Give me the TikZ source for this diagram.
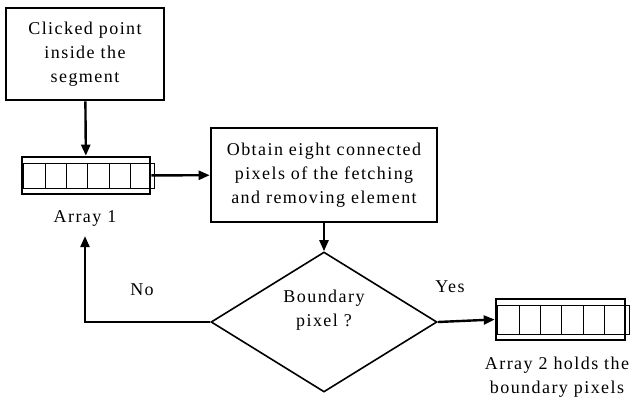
\documentclass[tikz,border=0pt]{standalone}
\usepackage{fontspec}
\setmainfont{Liberation Serif}[LetterSpace=8]
\usetikzlibrary{shapes.geometric,arrows.meta}

\begin{document}
\begin{tikzpicture}[x=1pt,y=-1pt,
	font=\fontsize{18}{24}\selectfont,
	box/.style={draw,line width=2.6pt,align=center,inner sep=0},
	cell/.style={line width=1pt},
	flow/.style={line width=2.4pt,-{Triangle[length=11pt,width=9pt]}}]
	\useasboundingbox (0,0) rectangle (632,402);
	\node[box,minimum width=158pt,minimum height=92pt] (click) at (85,54) {Clicked point\\inside the\\segment};
	\node[box,minimum width=128pt,minimum height=37pt] (arr1) at (86,175.5) {};
	\node[box,minimum width=226pt,minimum height=94pt] (proc) at (324,175) {Obtain eight connected\\pixels of the fetching\\and removing element};
	\node[draw,diamond,line width=1.6pt,inner sep=0,aspect=1.61,minimum width=226pt,minimum height=140pt,align=center] (dec) at (324,322) {Boundary\\pixel ?\\[4pt]};
	\node[box,minimum width=129pt,minimum height=41pt] (arr2) at (560.5,319.5) {};
	\node[inner sep=0] (lbl1) at (85,218) {Array 1};
	\node[align=center,inner sep=0] (lbl2) at (557,377) {Array 2 holds the\\boundary pixels};
	\node[inner sep=0] (no) at (142,290) {No};
	\node[inner sep=0] (yes) at (450,287) {Yes};
	% cells of both arrays
	\foreach \a in {arr1,arr2} {
		\draw[cell] ([shift={(3,8)}]\a.north west) rectangle ([shift={(3,-7)}]\a.south east);
		\foreach \k in {1,...,5}
			\draw[cell] ([shift={(3+21.33*\k,8)}]\a.north west) -- ([shift={(3+21.33*\k,-7)}]\a.south west);
	}
	\draw[flow] (click) -- (arr1);
	\draw[flow] (arr1) -- (proc);
	\draw[flow] (proc) -- (dec);
	\draw[flow] (dec.east) -- (arr2.west);
	\draw[flow] (dec.west) -| ([yshift=-10pt]lbl1.south);
\end{tikzpicture}
\end{document}
